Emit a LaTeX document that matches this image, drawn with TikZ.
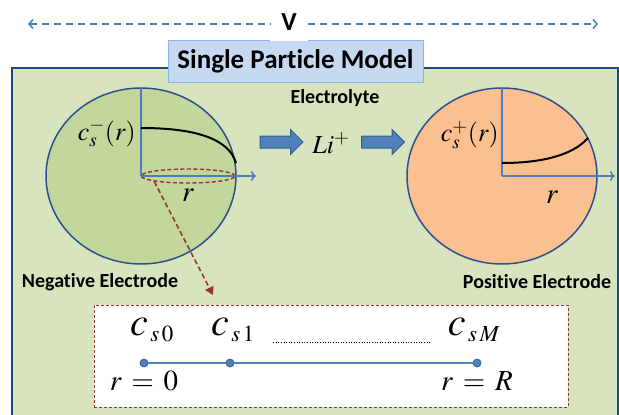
\documentclass[tikz,border=0pt]{standalone}
\usepackage{mathptmx}
\usepackage[no-math]{fontspec}
\setmainfont[Ligatures={NoCommon}]{Carlito}
\usetikzlibrary{arrows.meta,shapes.geometric,shapes.arrows}
\definecolor{spmField}{HTML}{D7E4BD}
\definecolor{spmNavy}{HTML}{1F497D}
\definecolor{spmRing}{HTML}{2F4F8F}
\definecolor{spmLeaf}{HTML}{C3D69B}
\definecolor{spmPeach}{HTML}{FAC090}
\definecolor{spmSky}{HTML}{C6D9F1}
\definecolor{spmSkyLine}{HTML}{8EB4E3}
\definecolor{spmAxis}{HTML}{4A7EBB}
\definecolor{spmPush}{HTML}{4F81BD}
\definecolor{spmPushLine}{HTML}{385D8A}
\definecolor{spmRed}{HTML}{943634}
\newcommand{\spmsub}[1]{\mbox{\fontsize{23}{23}\selectfont$\,#1$}}
\tikzset{
  spm frame/.style={fill=spmField, draw=spmNavy, line width=1.6pt},
  spm title/.style={rectangle, fill=spmSky, draw=spmSkyLine, line width=1pt, minimum width=255pt, minimum height=42pt, inner sep=0pt, font=\fontsize{27}{29}\selectfont\bfseries},
  spm volt/.style={rectangle, fill=white, minimum width=38pt, minimum height=38pt, inner sep=0pt, font=\fontsize{26}{28}\selectfont\bfseries},
  spm volt line/.style={draw=spmAxis, dashed, dash pattern=on 7pt off 5pt, line width=1.5pt},
  spm particle/.style={ellipse, draw=spmRing, line width=1.5pt, minimum width=190pt, minimum height=176pt, inner sep=0pt},
  spm axis/.style={draw=spmAxis, line width=1.5pt},
  spm profile/.style={draw=black, line width=2pt},
  spm slice/.style={ellipse, draw=spmRed, dashed, dash pattern=on 4pt off 2.5pt, line width=1.4pt, minimum width=94pt, minimum height=14pt, inner sep=0pt},
  spm zoom/.style={draw=spmRed, dashed, dash pattern=on 5pt off 3pt, line width=1.6pt, -{Triangle[length=8pt,width=9pt]}},
  spm label/.style={font=\fontsize{20}{22}\selectfont\bfseries, inner sep=0pt},
  spm math/.style={font=\fontsize{26}{28}\selectfont, inner sep=0pt},
  spm big math/.style={font=\fontsize{29}{31}\selectfont, inner sep=0pt},
  spm grid math/.style={font=\fontsize{40}{42}\selectfont, inner sep=0pt},
  spm push/.style={single arrow, fill=spmPush, draw=spmPushLine, line width=1pt, minimum height=43pt, inner sep=5.5pt, single arrow head extend=6.5pt},
  spm grid box/.style={rectangle, fill=white, draw=spmRed, dashed, dash pattern=on 3pt off 2pt, line width=1pt, minimum width=474pt, minimum height=102pt, inner sep=0pt},
  spm dot/.style={circle, fill=spmPush, draw=spmPushLine, line width=0.8pt, minimum size=8pt, inner sep=0pt},
  spm rod/.style={draw=spmPush, line width=1.6pt},
  spm dotted/.style={draw=black, dotted, line width=0.6pt},
}

\begin{document}
\begin{tikzpicture}[x=1pt,y=-1pt]
  \useasboundingbox (0,0) rectangle (619,415);

  % cell frame, open at the bottom
  \path[spm frame] (12,68) rectangle (618,430);

  % title and cell voltage
  \node[spm title] (title) at (295.5,61) {Single Particle Model};
  \node[spm volt] (volt) at (289,22) {V};
  \coordinate (vl) at (28,24);
  \coordinate (vr) at (598,24);
  \draw[spm volt line, {Straight Barb[length=4pt,width=9pt]}-] (vl) -- (vl -| volt.west);
  \draw[spm volt line, -{Straight Barb[length=4pt,width=9pt]}] (vr -| volt.east) -- (vr);

  % negative particle
  \node[spm particle, fill=spmLeaf] (neg) at (141,176) {};
  \node[spm slice] (slice) at (188,176) {};
  \coordinate (negr) at (256,176);
  \draw[spm axis] (neg.center) -- (neg.north);
  \draw[spm axis, -{To[length=5pt,width=10pt]}] (neg.center) -- (negr);
  \draw[spm profile] (141,128) .. controls (196,128) and (229,139) .. (236,163);
  \node[spm math, anchor=east] (csneg) at (136,133) {$c_s^-(r)$};
  \node[spm big math] (rneg) at (188,195) {$r$};
  \node[spm label] (neglab) at (100,282) {Negative Electrode};

  % electrolyte and Li flux
  \node[spm label] (elyte) at (335,98) {Electrolyte};
  \node[spm push] (push1) at (278.5,142) {};
  \node[spm math] (li) at (331,143) {$Li^+$};
  \node[spm push] (push2) at (380,142) {};

  % positive particle
  \node[spm particle, fill=spmPeach] (pos) at (502,176) {};
  \coordinate (posr) at (615,176);
  \draw[spm axis] (pos.center) -- (pos.north);
  \draw[spm axis, -{To[length=5pt,width=10pt]}] (pos.center) -- (posr);
  \draw[spm profile] (502,163) .. controls (540,163) and (572,156) .. (588,138);
  \node[spm math, anchor=east] (cspos) at (499,135) {$c_s^+(r)$};
  \node[spm big math] (rpos) at (552,197) {$r$};
  \node[spm label] (poslab) at (537,282) {Positive Electrode};

  % radial grid of the particle
  \coordinate (cut) at (213,295);
  \draw[spm zoom] (slice.south west) -- (cut);
  \node[spm grid box] (grid) at (331,356) {};
  \foreach \name/\x in {d0/144, d1/230, dM/477}
    \node[spm dot] (\name) at (\x,363) {};
  \draw[spm rod] (d0) -- (d1);
  \draw[spm rod] (d1) -- (dM);
  \node[spm grid math, anchor=base] (c0) at (152,335) {$c_{\spmsub{s\,0}}$};
  \node[spm grid math, anchor=base] (c1) at (233,335) {$c_{\spmsub{s\,1}}$};
  \node[spm grid math, anchor=base] (cM) at (474,335) {$c_{\spmsub{s\,M}}$};
  \draw[spm dotted] ([xshift=18pt,yshift=-7pt]c1.base east) -- ([xshift=-18pt,yshift=-7pt]cM.base west);
  \node[spm big math] (r0) at (144,381) {$r\,=\,0$};
  \node[spm big math] (rR) at (477,381) {$r\,=\,R$};
\end{tikzpicture}
\end{document}
